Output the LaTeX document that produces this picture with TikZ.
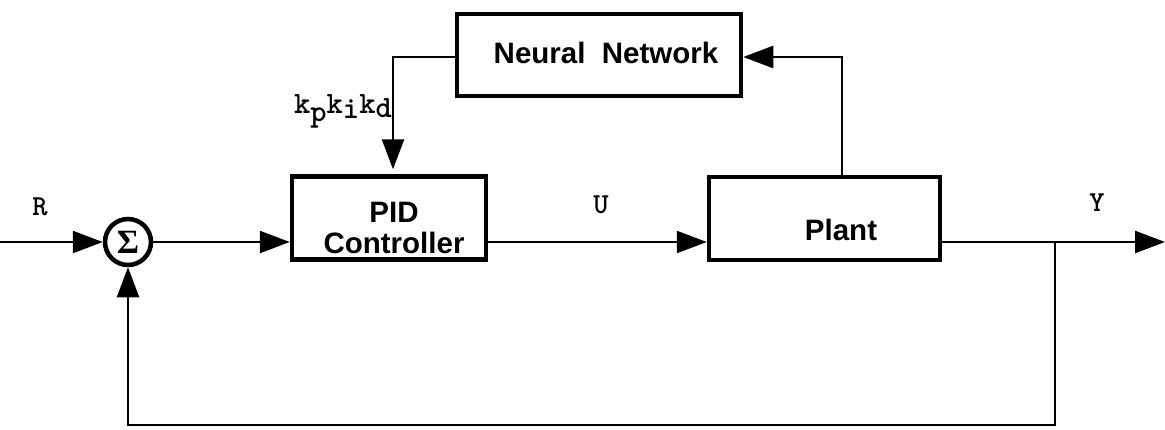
\documentclass[tikz,border=0pt]{standalone}
\usepackage{fontspec}
\setsansfont{Liberation Sans}
\newfontfamily\greekf{Liberation Serif}
\usetikzlibrary{arrows.meta}
\begin{document}
\begin{tikzpicture}[x=1pt,y=-1pt,
  blk/.style={draw, line width=4.5pt, inner sep=0pt},
  txt/.style={font=\sffamily\bfseries\fontsize{29.5}{31}\selectfont, align=center, inner sep=0pt},
  sig/.style={font=\ttfamily\bfseries\fontsize{29}{31}\selectfont, inner sep=0pt},
  wire/.style={line width=2.5pt},
  arr/.style={wire, -{Triangle[length=30pt,width=22pt]}},
  sumc/.style={circle, draw, line width=4.5pt, minimum size=46pt, inner sep=0pt, font=\greekf\bfseries\fontsize{34}{34}\selectfont}]
\useasboundingbox (0,0) rectangle (1165,429);
% blocks
\node[blk, minimum width=284pt, minimum height=82pt] (nn) at (599,55) {};
\node[blk, minimum width=194pt, minimum height=83pt] (pid) at (389,218) {};
\node[blk, minimum width=231pt, minimum height=83pt] (plant) at (824.5,218.5) {};
\node[txt] (nntxt) at (606,53) {Neural\ \ Network};
\node[txt] (pidtxt) at (394,228) {PID\\Controller};
\node[txt] (planttxt) at (841,230) {Plant};
\node[sumc] (sum) at (128,242) {Σ};
% coordinates
\coordinate (rin) at (0,242);
\coordinate (yout) at (1165,242);
\coordinate (branch) at (1055,242);
\coordinate (bl) at (128,425);
\coordinate (br) at (1055,425);
\coordinate (tap) at (842,57);
\coordinate (kd) at (393,57);
% connectors
\draw[arr] (rin) -- (sum.west);
\draw[arr] (sum.east) -- (pid.west |- sum.east);
\draw[arr] (pid.east |- sum.east) -- (plant.west |- sum.east);
\draw[arr] (plant.east |- sum.east) -- (yout);
\draw[arr] (branch) -- (br) -- (bl) -- (sum.south);
\draw[arr] (plant.north -| tap) -- (tap) -- (nn.east |- tap);
\draw[arr, shorten >=5pt] (nn.west |- kd) -- (kd) -- (pid.north -| kd);
% labels
\node[sig] (rlab) at (40,207) {R};
\node[sig] (ulab) at (601,205) {U};
\node[sig] (ylab) at (1097,203) {Y};
\node[sig, font=\ttfamily\bfseries\fontsize{31}{33}\selectfont, anchor=base east] (klab) at (392,113)
  {k\raisebox{-8pt}{p}k\raisebox{-5pt}{i}k\raisebox{-4pt}{d}};
\end{tikzpicture}
\end{document}
